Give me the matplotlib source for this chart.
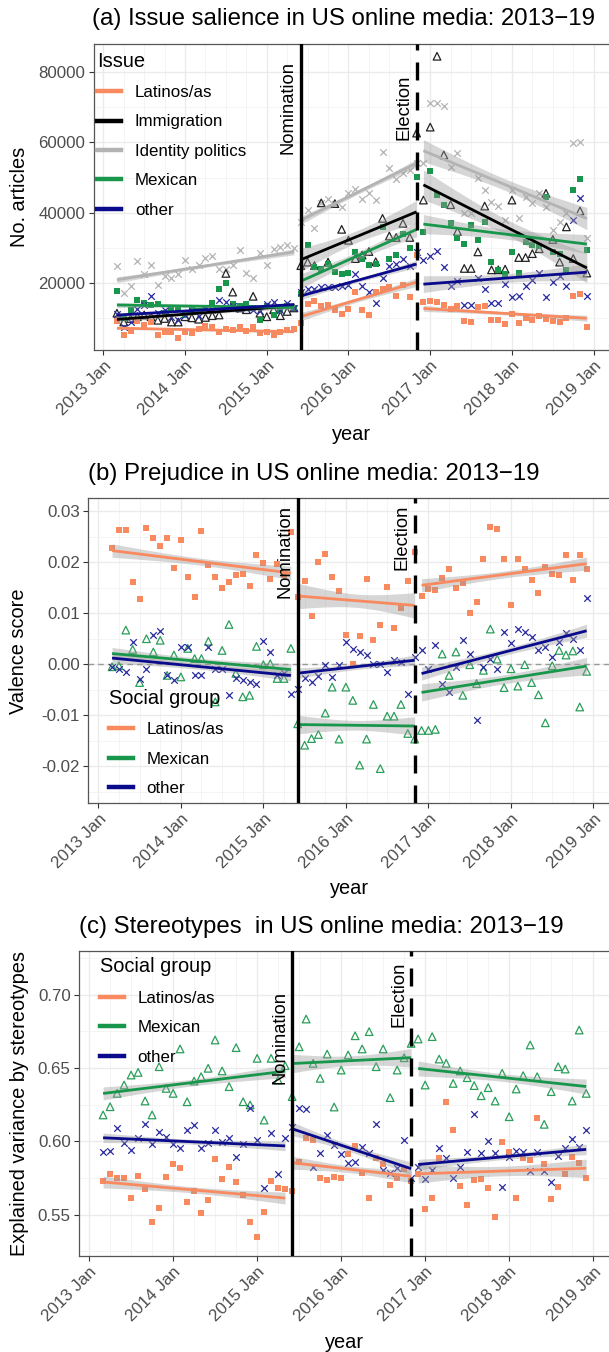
import numpy as np
import matplotlib
matplotlib.use("Agg")
import matplotlib.pyplot as plt
from matplotlib.lines import Line2D

plt.rcParams["font.family"] = ["Liberation Sans", "DejaVu Sans"]
plt.rcParams["axes.unicode_minus"] = False

W, H = 609, 1352

# monthly observations, March 2013 .. December 2018
months = 2013 + (np.arange(70) + 2) / 12.0
nomination = 2015 + 5 / 12.0   # June 2015
election = 2016 + 10 / 12.0    # Nov 2016
seg_bounds = [(0, 27), (27, 45), (45, 70)]
years = list(range(2013, 2020))
# the trends were fitted on finer (sub-monthly) data, so their bands are narrower
band_scale = 0.4

# ---- (a) issue salience, number of articles ----
salience_latinos = [9300, 5200, 6500, 9300, 8200, 9000, 5200, 6300, 6100, 4600, 6100, 5800, 7000, 7800,
                    7600, 6200, 7000, 6700, 7600, 6400, 7500, 5800, 6200, 5200, 6300, 6700, 7000,
                    8700, 14000, 15100, 13500, 13700, 12500, 11400, 12800, 17500, 12500, 11000, 17500,
                    18500, 19000, 16500, 19400, 16000, 28000,
                    14800, 15000, 14600, 13800, 12600, 13500, 9300, 8900, 13200, 13500, 9700, 9500, 8300,
                    11200, 8800, 10200, 9600, 10600, 9800, 9400, 9000, 10000, 16500, 17000, 7500]
salience_immigration = [11500, 9000, 10000, 10500, 11000, 10500, 9500, 10000, 9000, 9000, 10500, 10200, 9800,
                        10300, 10800, 11000, 22800, 17500, 13000, 12500, 16300, 11500, 10500, 12500, 10800,
                        12000, 13000,
                        25000, 26000, 25000, 42800, 26000, 42600, 35300, 32200, 27000, 28000, 29000, 26100,
                        38400, 33400, 33000, 37000, 33000, 62600,
                        43600, 64300, 84400, 56400, 42300, 34700, 24200, 24200, 28900, 41900, 23800, 23800,
                        24000, 43600, 27300, 27300, 28400, 29800, 45500, 32400, 26000, 36000, 27000, 40500,
                        22900]
salience_identity = [24900, 17200, 19100, 26300, 22700, 25300, 19600, 22000, 21500, 22500, 26700, 23900, 25300,
                     27200, 27700, 23900, 23900, 25300, 29400, 22900, 21500, 28700, 25300, 29600, 30300, 30800,
                     29900,
                     37400, 40900, 35800, 42700, 43800, 42500, 41700, 45700, 46600, 43800, 45700, 43600, 57100,
                     52800, 49600, 51400, 52100, 54200,
                     54000, 71100, 71100, 70400, 53100, 56900, 39800, 39800, 49800, 46400, 43000, 42000, 37900,
                     46400, 38400, 44500, 42700, 45500, 41700, 35100, 37400, 39800, 59700, 60200, 32700]
salience_mexican = [17700, 10000, 12500, 15200, 14500, 13800, 14000, 11500, 12500, 13000, 11000, 12500, 12000,
                    13000, 14500, 18300, 20100, 14000, 13500, 14200, 13000, 9700, 13500, 10900, 12500, 13500,
                    13000,
                    17000, 30800, 24600, 24000, 25600, 23300, 22700, 23000, 29000, 26800, 25300, 25600, 36000,
                    26800, 28000, 34000, 30000, 50200,
                    34600, 51900, 45000, 42100, 37100, 32700, 31000, 36500, 32200, 37400, 25900, 23700, 22600,
                    29000, 23000, 31700, 30800, 30500, 44500, 29000, 28200, 23700, 46400, 49700, 29400]
salience_other = [11400, 7600, 9000, 12800, 13700, 16300, 11500, 12300, 10500, 9500, 11000, 12000, 10800,
                  13000, 12500, 15200, 14700, 13500, 12800, 13000, 12500, 12000, 14200, 14700, 12500, 14500,
                  13000,
                  17500, 18500, 18500, 19000, 19000, 18800, 19200, 19500, 22700, 19100, 17500, 14300, 21400,
                  25000, 25600, 27000, 25000, 29000,
                  26700, 27800, 29200, 24500, 19200, 20600, 13700, 13700, 21600, 18300, 14500, 14500, 19900,
                  16100, 16400, 19200, 20900, 22900, 16100, 20300, 22000, 19200, 37900, 44300, 16500]

# ---- (b) prejudice, valence score ----
valence_latinos = [0.0228, 0.0263, 0.0263, 0.0162, 0.0128, 0.0268, 0.0247, 0.0232, 0.0247, 0.0189, 0.0243,
                   0.0171, 0.0131, 0.0261, 0.0194, 0.0171, 0.0150, 0.0162, 0.0175, 0.0177, 0.0153, 0.0215,
                   0.0199, 0.0168, 0.0196, 0.0175, 0.0260,
                   0.0132, 0.0163, 0.0095, 0.0201, 0.0217, 0.0171, 0.0143, 0.0057, 0.0000, 0.0056, 0.0168,
                   0.0047, 0.0077, 0.0152, 0.0071, 0.0110, 0.0163, 0.0221,
                   0.0134, 0.0147, 0.0145, 0.0170, 0.0187, 0.0149, 0.0160, 0.0101, 0.0122, 0.0207, 0.0270,
                   0.0265, 0.0207, 0.0116, 0.0207, 0.0187, 0.0165, 0.0139, 0.0191, 0.0178, 0.0176, 0.0214,
                   0.0165, 0.0214, 0.0187]
valence_mexican = [-0.0005, -0.0003, 0.0067, 0.0029, -0.0036, 0.0050, 0.0024, 0.0047, -0.0022, 0.0018,
                   -0.0025, 0.0031, 0.0011, 0.0011, 0.0045, -0.0074, 0.0027, 0.0078, -0.0018, -0.0064,
                   -0.0061, 0.0035, -0.0001, 0.0001, -0.0028, -0.0028, 0.0031,
                   -0.0117, -0.0159, -0.0146, -0.0138, -0.0096, -0.0045, -0.0147, -0.0045, -0.0071, -0.0198,
                   -0.0147, -0.0079, -0.0205, -0.0102, -0.0102, -0.0079, -0.0136, -0.0147,
                   -0.0130, -0.0130, -0.0128, 0.0020, -0.0022, 0.0024, -0.0061, -0.0001, -0.0038, -0.0012,
                   0.0069, 0.0010, -0.0046, -0.0009, -0.0043, -0.0001, -0.0036, -0.0060, -0.0115, -0.0003,
                   0.0027, 0.0018, 0.0026, -0.0084, -0.0014]
valence_other = [-0.0005, -0.0009, -0.0015, 0.0044, -0.0030, -0.0009, 0.0057, 0.0065, -0.0022, -0.0031,
                 0.0034, 0.0034, -0.0022, -0.0022, 0.0034, -0.0009, -0.0009, -0.0061, -0.0028, -0.0031,
                 -0.0035, -0.0038, 0.0045, 0.0024, -0.0022, -0.0018, -0.0058,
                 -0.0048, -0.0027, -0.0035, -0.0023, -0.0002, -0.0025, -0.0001, 0.0044, 0.0029, 0.0024,
                 0.0019, 0.0001, 0.0001, -0.0015, 0.0008, 0.0005, -0.0058, 0.0014,
                 0.0027, -0.0009, 0.0037, -0.0038, -0.0054, -0.0005, 0.0047, 0.0021, -0.0110, -0.0005,
                 0.0011, -0.0010, 0.0063, 0.0041, 0.0070, 0.0063, 0.0054, 0.0027, 0.0034, 0.0014, 0.0044,
                 0.0062, 0.0049, 0.0027, 0.0130]

# ---- (c) stereotypes, explained variance ----
stereo_latinos = [0.5730, 0.5775, 0.5748, 0.5752, 0.5611, 0.5764, 0.5675, 0.5448, 0.5543, 0.5759, 0.5843,
                  0.5820, 0.5584, 0.5661, 0.5509, 0.5600, 0.5880, 0.5743, 0.5827, 0.5725, 0.5634, 0.5448,
                  0.5350, 0.5520, 0.5730, 0.5680, 0.5675,
                  0.5660, 0.5861, 0.6025, 0.6010, 0.5752, 0.5736, 0.5759, 0.5748, 0.5911, 0.5970, 0.5782,
                  0.5611, 0.5884, 0.5843, 0.5702, 0.5748, 0.5811, 0.5730,
                  0.5775, 0.5539, 0.5616, 0.5889, 0.6270, 0.6077, 0.5698, 0.5566, 0.5736, 0.5743, 0.5684,
                  0.5486, 0.5993, 0.5925, 0.5611, 0.5884, 0.5873, 0.6161, 0.5843, 0.5607, 0.5691, 0.5775,
                  0.5895, 0.5850, 0.5748]
stereo_mexican = [0.6180, 0.6236, 0.6327, 0.6384, 0.6452, 0.6470, 0.6275, 0.6180, 0.6509, 0.6361, 0.6327,
                  0.6630, 0.6270, 0.6411, 0.6441, 0.6498, 0.6691, 0.6480, 0.6373, 0.6639, 0.6270, 0.6248,
                  0.6566, 0.6145, 0.6566, 0.6418, 0.6516,
                  0.6305, 0.6645, 0.6834, 0.6532, 0.6430, 0.6595, 0.6234, 0.6486, 0.6589, 0.6720, 0.6630,
                  0.6748, 0.6509, 0.6630, 0.6298, 0.6486, 0.6570, 0.6668,
                  0.6698, 0.6384, 0.6714, 0.6561, 0.6532, 0.6395, 0.6480, 0.6434, 0.6380, 0.6311, 0.6366,
                  0.6275, 0.6464, 0.6168, 0.6357, 0.6448, 0.6657, 0.6441, 0.6116, 0.6339, 0.6509, 0.6493,
                  0.6275, 0.6759, 0.6327]
stereo_other = [0.5925, 0.5934, 0.6093, 0.5986, 0.5941, 0.6025, 0.6116, 0.5980, 0.6066, 0.6032, 0.5980,
                0.5957, 0.6077, 0.6111, 0.5957, 0.5986, 0.6077, 0.5993, 0.6025, 0.5895, 0.5980, 0.6225,
                0.6009, 0.5684, 0.6055, 0.5775, 0.6020,
                0.6100, 0.6225, 0.6220, 0.5827, 0.5918, 0.6043, 0.5975, 0.5911, 0.5850, 0.5860, 0.5964,
                0.5918, 0.6116, 0.5805, 0.5782, 0.5816, 0.6009, 0.5752,
                0.5827, 0.5743, 0.5805, 0.5952, 0.5889, 0.5752, 0.5827, 0.5925, 0.6184, 0.5918, 0.6002,
                0.5918, 0.5691, 0.5895, 0.5934, 0.5925, 0.5798, 0.5925, 0.5800, 0.5720, 0.5902, 0.5957,
                0.6016, 0.5960, 0.6077]

c_lat = "#F98A60"
c_imm = "#000000"
c_idp = "#B3B3B3"
c_mex = "#18964B"
c_oth = "#0A0A8C"


def t_crit(df):
    # 97.5% quantile of Student t (series approximation)
    z = 1.959964
    return z + (z ** 3 + z) / (4 * df) + (5 * z ** 5 + 16 * z ** 3 + 3 * z) / (96 * df ** 2)


def add_trend(ax, y, color):
    y = np.asarray(y, float)
    for i0, i1 in seg_bounds:
        t = months[i0:i1]
        v = y[i0:i1]
        slope, icpt = np.polyfit(t, v, 1)
        tt = np.linspace(t[0], t[-1], 60)
        fit = icpt + slope * tt
        n = len(t)
        s = np.sqrt(np.sum((v - (icpt + slope * t)) ** 2) / (n - 2))
        se = s * np.sqrt(1.0 / n + (tt - t.mean()) ** 2 / np.sum((t - t.mean()) ** 2))
        w = band_scale * t_crit(n - 2) * se
        ax.fill_between(tt, fit - w, fit + w, color="#999999", alpha=0.4, lw=0, zorder=3)
        ax.plot(tt, fit, color=color, lw=2.0, zorder=4, solid_capstyle="butt")


def add_points(ax, y, color, kind):
    if kind == "square":
        ax.scatter(months, y, marker="s", s=22, color=color, lw=0, zorder=2)
    elif kind == "triangle":
        ax.scatter(months, y, marker="^", s=30, facecolor="none", edgecolor=color, lw=0.9, zorder=2)
    else:
        ax.scatter(months, y, marker="x", s=22, color=color, lw=0.9, zorder=2)


def setup_panel(left, top, bottom, ylim, yticks, ylabels, yminor):
    ax = fig.add_axes([left / W, 1 - bottom / H, (610 - left) / W, (bottom - top) / H])
    ax.set_xticks(years)
    ax.set_xticklabels([f"{y} Jan" for y in years], rotation=45, ha="right", va="top",
                       rotation_mode="anchor")
    ax.set_xticks([y + q / 4 for y in range(2013, 2019) for q in (1, 2, 3)], minor=True)
    ax.set_yticks(yticks)
    ax.set_yticklabels(ylabels)
    ax.set_yticks(yminor, minor=True)
    ax.set_xlim(2012.88, 2019.2)
    ax.set_ylim(*ylim)
    ax.grid(which="major", color="#EBEBEB", lw=1.0)
    ax.grid(which="minor", color="#F2F2F2", lw=0.6)
    ax.set_axisbelow(True)
    ax.tick_params(which="minor", length=0)
    ax.tick_params(which="major", length=3.5, width=0.8, color="#333333", labelsize=12.2,
                   labelcolor="#4D4D4D", pad=2.5)
    for sp in ax.spines.values():
        sp.set_color("#555555")
        sp.set_linewidth(0.9)
    return ax


def add_events(ax, y_nom, y_elec):
    ax.axvline(nomination, color="black", lw=2.4, zorder=5)
    ax.axvline(election, color="black", lw=2.4, ls=(0, (5.4, 3.6)), zorder=5)
    ax.annotate("Nomination", xy=(nomination, y_nom), xytext=(-9, 0), textcoords="offset points",
                rotation=90, ha="center", va="center", fontsize=13.2, zorder=6)
    ax.annotate("Election", xy=(election, y_elec), xytext=(-9, 0), textcoords="offset points",
                rotation=90, ha="center", va="center", fontsize=13.2, zorder=6)


def add_legend(ax, title, labels, colors, anchor):
    handles = [Line2D([], [], color=c, lw=3.2) for c in colors]
    leg = ax.legend(handles, labels, title=title, loc="upper left", bbox_to_anchor=anchor,
                    frameon=False, fontsize=12.2, title_fontsize=14.4, handlelength=1.4,
                    handletextpad=0.8, labelspacing=0.85, borderpad=0, borderaxespad=0,
                    alignment="left")
    leg.set_zorder(7)


def fig_text(xpx, ypx, s, **kw):
    fig.text(xpx / W, 1 - ypx / H, s, **kw)


fig = plt.figure(figsize=(W / 100, H / 100), dpi=100)

# panel (a)
ax = setup_panel(93.5, 44, 350, (1060, 87880), [20000, 40000, 60000, 80000],
                 ["20000", "40000", "60000", "80000"], [10000, 30000, 50000, 70000])
add_points(ax, salience_identity, c_idp, "x")
add_points(ax, salience_immigration, "#222222", "triangle")
add_points(ax, salience_mexican, c_mex, "square")
add_points(ax, salience_other, "#2A2AA0", "x")
add_points(ax, salience_latinos, c_lat, "square")
for y, c in [(salience_identity, c_idp), (salience_immigration, c_imm), (salience_mexican, c_mex),
             (salience_other, c_oth), (salience_latinos, c_lat)]:
    add_trend(ax, y, c)
add_events(ax, 70000, 70000)
add_legend(ax, "Issue", ["Latinos/as", "Immigration", "Identity politics", "Mexican", "other"],
           [c_lat, c_imm, c_idp, c_mex, c_oth], (0.0077, 0.975))
fig_text(92, 19, "(a) Issue salience in US online media: 2013\u221219", ha="left", va="center", fontsize=17.3)
fig_text(19.4, 197, "No. articles", rotation=90, ha="center", va="center", fontsize=14.4)
fig_text(351.7, 435, "year", ha="center", va="center", fontsize=14.4)

# panel (b)
ax = setup_panel(88.4, 498, 803, (-0.02725, 0.03263), [-0.02, -0.01, 0.0, 0.01, 0.02, 0.03],
                 ["-0.02", "-0.01", "0.00", "0.01", "0.02", "0.03"],
                 [-0.025, -0.015, -0.005, 0.005, 0.015, 0.025])
ax.axhline(0, color="#999999", lw=1.0, ls=(0, (4, 3)), zorder=1)
add_points(ax, valence_latinos, c_lat, "square")
add_points(ax, valence_mexican, "#2A9E5A", "triangle")
add_points(ax, valence_other, "#2A2AA0", "x")
for y, c in [(valence_latinos, c_lat), (valence_mexican, c_mex), (valence_other, c_oth)]:
    add_trend(ax, y, c)
add_events(ax, 0.0221, 0.0250)
add_legend(ax, "Social group", ["Latinos/as", "Mexican", "other"], [c_lat, c_mex, c_oth], (0.0395, 0.374))
fig_text(88.5, 474, "(b) Prejudice in US online media: 2013\u221219", ha="left", va="center", fontsize=17.3)
fig_text(18.6, 651, "Valence score", rotation=90, ha="center", va="center", fontsize=14.4)
fig_text(349.2, 889, "year", ha="center", va="center", fontsize=14.4)

# panel (c)
ax = setup_panel(79, 951, 1256, (0.5218, 0.7298), [0.55, 0.60, 0.65, 0.70],
                 ["0.55", "0.60", "0.65", "0.70"], [0.525, 0.575, 0.625, 0.675, 0.725])
add_points(ax, stereo_latinos, c_lat, "square")
add_points(ax, stereo_mexican, "#2A9E5A", "triangle")
add_points(ax, stereo_other, "#2A2AA0", "x")
for y, c in [(stereo_latinos, c_lat), (stereo_mexican, c_mex), (stereo_other, c_oth)]:
    add_trend(ax, y, c)
add_events(ax, 0.6708, 0.7003)
add_legend(ax, "Social group", ["Latinos/as", "Mexican", "other"], [c_lat, c_mex, c_oth], (0.0395, 0.9787))
fig_text(79, 927, "(c) Stereotypes  in US online media: 2013\u221219", ha="left", va="center", fontsize=17.3)
fig_text(19.4, 1104, "Explained variance by stereotypes", rotation=90, ha="center", va="center", fontsize=14.4)
fig_text(344.5, 1342, "year", ha="center", va="center", fontsize=14.4)

fig.savefig("out.png", dpi=100)
